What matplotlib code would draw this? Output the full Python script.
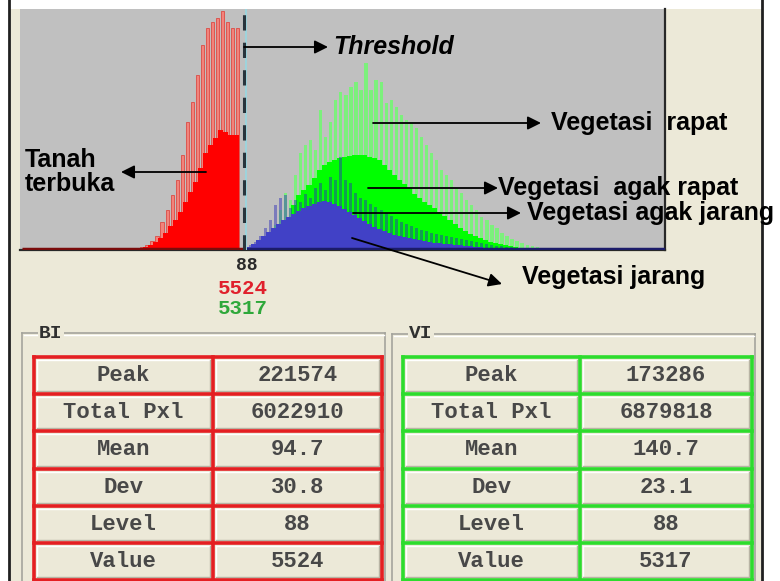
import numpy as np
import matplotlib.pyplot as plt
from matplotlib.patches import Rectangle

W, H = 780, 581

# gray levels of the histogram bins (every second level carries a spike)
red_levels = np.arange(45, 86, 2)
green_levels = np.arange(98, 209, 2)
blue_levels = np.arange(88, 211, 2)

# pixel counts in thousands
red_spike = [1.9, 2.8, 4.6, 8.3, 13.0, 26.0, 37.1, 51.0, 64.9, 88.1, 118.7, 137.2, 162.2,
             190.0, 205.8, 211.4, 215.1, 221.574, 211.4, 205.8, 205.8]
red_base = [0.9, 1.9, 2.8, 4.6, 7.4, 11.1, 15.8, 22.2, 27.8, 35.2, 44.5, 53.8, 63.0,
            76.0, 89.9, 97.3, 103.8, 111.2, 109.4, 106.6, 106.6]

green_spike = [13.9, 23.2, 37.1, 52.8, 46.4, 69.5, 89.9, 97.3, 102.0, 92.7, 129.8, 104.8,
               118.7, 139.1, 146.5, 143.7, 151.1, 155.7, 148.3, 173.286, 148.3, 157.6, 155.7,
               136.3, 139.1, 132.6, 125.1, 120.5, 118.7, 113.1, 104.8, 97.3, 89.9, 83.4, 74.2,
               69.5, 64.9, 57.5, 52.8, 46.4, 41.7, 37.1, 30.6, 27.8, 23.2, 20.4, 15.8, 13.0,
               10.2, 8.3, 6.5, 4.6, 3.7, 2.8, 1.9, 0.9]
green_base = [0, 1.9, 4.6, 13.9, 23.2, 41.7, 51.0, 55.6, 60.3, 66.7, 74.2, 78.8, 81.6, 83.4,
              85.3, 86.2, 87.1, 88.1, 88.1, 88.1, 86.2, 85.3, 83.4, 78.8, 74.2, 69.5, 64.9,
              61.2, 57.5, 51.9, 48.2, 44.5, 41.7, 38.9, 35.2, 31.5, 27.8, 24.1, 20.4, 17.6,
              14.8, 13.0, 11.1, 9.3, 7.4, 6.5, 5.6, 4.6, 3.7, 2.8, 1.9, 1.9, 0.9, 0.9, 0, 0]

blue_spike = [1.9, 4.6, 7.4, 13.0, 20.4, 27.8, 41.7, 48.2, 51.0, 38.9, 46.4, 44.5, 51.9,
              48.2, 57.5, 62.1, 55.6, 67.7, 64.9, 86.2, 64.9, 62.1, 52.8, 48.2, 46.4, 42.6,
              39.9, 37.1, 34.3, 31.5, 28.7, 26.0, 24.1, 22.2, 20.4, 18.5, 17.6, 15.8, 14.8,
              13.9, 13.0, 12.1, 11.1, 10.2, 9.3, 8.3, 7.4, 6.5, 5.6, 4.6, 3.7, 3.7, 2.8, 2.8,
              1.9, 1.9, 0.9, 0.9, 0.9, 0, 0, 0]
blue_base = [0.9, 2.8, 5.6, 9.3, 13.0, 16.7, 20.4, 24.1, 27.8, 30.6, 33.4, 36.2, 38.9, 40.8,
             42.6, 44.5, 45.4, 44.5, 42.6, 40.8, 38.0, 35.2, 32.4, 29.7, 26.9, 24.1, 21.3,
             19.5, 17.6, 15.8, 13.9, 13.0, 12.1, 11.1, 10.2, 9.3, 8.3, 7.4, 6.5, 6.5, 5.6,
             5.6, 4.6, 4.6, 3.7, 3.7, 2.8, 2.8, 1.9, 1.9, 1.9, 0.9, 0.9, 0.9, 0.9, 0, 0, 0,
             0, 0, 0, 0]

threshold = 88
bi_value = 5524
vi_value = 5317

stat_names = ["Peak", "Total Pxl", "Mean", "Dev", "Level", "Value"]
bi_stats = ["221574", "6022910", "94.7", "30.8", "88", "5524"]
vi_stats = ["173286", "6879818", "140.7", "23.1", "88", "5317"]

BEIGE = "#ece9d8"
GRAY = "#c0c0c0"
SANS = "Liberation Sans"
MONO = "Liberation Mono"

fig = plt.figure(figsize=(W / 100, H / 100), dpi=100, facecolor="white")

# window background, in pixel coordinates
bg = fig.add_axes([0, 0, 1, 1], zorder=0)
bg.set_xlim(0, W)
bg.set_ylim(H, 0)
bg.axis("off")
bg.add_patch(Rectangle((9, 9), 753, H, facecolor=BEIGE, edgecolor="none"))
bg.plot([9, 9], [0, H], color="#202020", lw=2)
bg.plot([762, 762], [0, H], color="#202020", lw=2)

# histogram panel
ax = fig.add_axes([20 / W, 1 - 250 / H, 645 / W, 241 / H], zorder=2)
ax.set_facecolor(GRAY)
ax.set_xlim(-0.8, 255.4)
ax.set_ylim(0, 223.4)
ax.set_xticks([])
ax.set_yticks([])
for side in ["left", "top"]:
    ax.spines[side].set_visible(False)
for side in ["right", "bottom"]:
    ax.spines[side].set_color("#282828")
    ax.spines[side].set_linewidth(1.6)

ax.bar(red_levels, red_spike, width=1.25, color="#f2837b", edgecolor="#dd3a34",
       linewidth=0.5, align="edge", zorder=1)
ax.bar(red_levels - 1, red_base, width=2.0, color="#ff0000", linewidth=0,
       align="edge", zorder=2)

ax.bar(green_levels, green_spike, width=1.3, color="#7cf07c", linewidth=0,
       align="edge", zorder=1)
ax.bar(green_levels - 1, green_base, width=2.0, color="#00ff00", linewidth=0,
       align="edge", zorder=2)
ax.bar(blue_levels, blue_spike, width=1.2, color="#2828b8", alpha=0.45, linewidth=0,
       align="edge", zorder=3)
ax.bar(blue_levels - 1, blue_base, width=2.0, color="#4141c6", linewidth=0,
       align="edge", zorder=4)

ax.plot([0, threshold], [0.9, 0.9], color="#7a0c0c", lw=2.5, zorder=5,
        solid_capstyle="butt")
ax.plot([threshold, 255.4], [0.9, 0.9], color="#1c1c6a", lw=2.5, zorder=5,
        solid_capstyle="butt")

ax.axvline(threshold + 0.9, color="#9ed4dc", lw=1.4, zorder=6)
ax.axvline(threshold, color="#28343c", lw=2.2, dashes=(5, 4), zorder=7)

# labels and tables drawn over everything, pixel coordinates again
fg = fig.add_axes([0, 0, 1, 1], zorder=5)
fg.set_xlim(0, W)
fg.set_ylim(H, 0)
fg.axis("off")
fg.patch.set_alpha(0)

arrow = dict(arrowstyle="-|>", color="black", lw=1.3, mutation_scale=20,
             shrinkA=0, shrinkB=0)
label_kw = dict(fontsize=18, fontweight="bold", family=SANS, va="center", ha="left")

fg.annotate("", xy=(328, 47), xytext=(244, 47), arrowprops=arrow)
fg.text(333, 47, "Threshold", fontstyle="italic", **label_kw)

fg.annotate("", xy=(541, 123), xytext=(373, 123), arrowprops=arrow)
fg.text(551, 123, "Vegetasi  rapat", **label_kw)

fg.annotate("", xy=(121, 172), xytext=(206, 172), arrowprops=arrow)
fg.text(25, 172, "Tanah\nterbuka", linespacing=1.0, **label_kw)

fg.annotate("", xy=(498, 188), xytext=(368, 188), arrowprops=arrow)
fg.text(498, 188, "Vegetasi  agak rapat", **label_kw)

fg.annotate("", xy=(521, 213), xytext=(353, 213), arrowprops=arrow)
fg.text(527, 213, "Vegetasi agak jarang", **label_kw)

fg.annotate("", xy=(502, 284), xytext=(352, 238), arrowprops=arrow)
fg.text(522, 277, "Vegetasi jarang", **label_kw)

# level and threshold values under the histogram
fg.text(247, 266, str(threshold), fontsize=13, fontweight="bold", family=MONO,
        color="#2a2a2a", ha="center", va="center")
fg.text(243, 288, str(bi_value), fontsize=15, fontweight="bold", family=MONO,
        color="#e0202c", ha="center", va="center")
fg.text(243, 309, str(vi_value), fontsize=15, fontweight="bold", family=MONO,
        color="#2ea83a", ha="center", va="center")


def group_box(x0, x1, y0, title):
    fg.plot([x0, x1], [y0, y0], color="#a4a49c", lw=1.2)
    fg.plot([x0, x0], [y0, H + 2], color="#a4a49c", lw=1.2)
    fg.plot([x1, x1], [y0, H + 2], color="#a4a49c", lw=1.2)
    fg.plot([x0 + 1.5, x1 - 1.5], [y0 + 1.5, y0 + 1.5], color="white", lw=1)
    fg.text(x0 + 17, y0, title, fontsize=14, fontweight="bold", family=MONO,
            color="#303030", ha="left", va="center",
            bbox=dict(facecolor=BEIGE, edgecolor="none", pad=1))


def stats_table(x0, xm, x1, y0, y1, color, values):
    rh = (y1 - y0) / len(stat_names)
    for i, (name, val) in enumerate(zip(stat_names, values)):
        ya = y0 + i * rh
        for a, b in [(x0, xm), (xm, x1)]:
            fg.plot([a + 3, b - 3], [ya + 3, ya + 3], color="white", lw=1)
            fg.plot([a + 3, a + 3], [ya + 3, ya + rh - 3], color="white", lw=1)
            fg.plot([a + 3, b - 3], [ya + rh - 3, ya + rh - 3], color="#b8b4a4", lw=1)
            fg.plot([b - 3, b - 3], [ya + 3, ya + rh - 3], color="#b8b4a4", lw=1)
        cy = ya + rh / 2
        fg.text((x0 + xm) / 2, cy, name, fontsize=16, fontweight="bold", family=MONO,
                color="#484848", ha="center", va="center")
        fg.text((xm + x1) / 2, cy, val, fontsize=16, fontweight="bold", family=MONO,
                color="#484848", ha="center", va="center")
    for i in range(len(stat_names) + 1):
        y = y0 + i * rh
        fg.plot([x0, x1], [y, y], color=color, lw=2.6, solid_capstyle="projecting")
    for x in (x0, xm, x1):
        fg.plot([x, x], [y0, y1], color=color, lw=2.6, solid_capstyle="projecting")


group_box(22, 385, 333, "BI")
group_box(392, 755, 334, "VI")
stats_table(34, 213, 382, 357, 580, "#e41f22", bi_stats)
stats_table(403, 580, 752, 357, 580, "#2ddc2d", vi_stats)

fig.savefig("out.png", dpi=100, facecolor="white")
